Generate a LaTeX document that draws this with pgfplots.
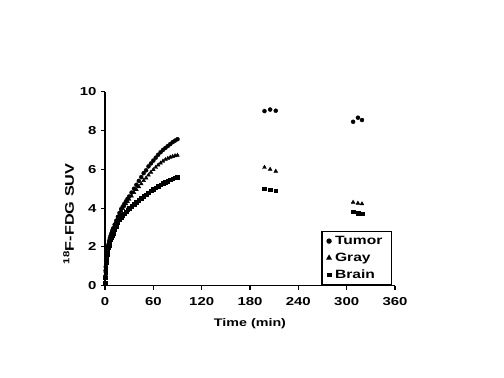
\documentclass[border=0pt]{standalone}
\usepackage{pgfplots}
\pgfplotsset{compat=1.18}
\usepackage{pgfplotstable}
\usepackage{fontspec}
\setmainfont{Liberation Sans}[FakeStretch=1.3]
\pgfplotstableread{
t tumor gray brain
0.25 0.15 0.15 0.12
0.5 0.5 0.48 0.42
0.75 0.78 0.75 0.68
1 1.0 0.98 0.9
1.5 1.35 1.32 1.2
2 1.6 1.57 1.45
2.5 1.75 1.72 1.6
3 1.9 1.87 1.75
4 2.1 2.07 1.95
5 2.3 2.26 2.1
6 2.45 2.41 2.25
7 2.58 2.54 2.38
8 2.7 2.66 2.5
9 2.83 2.78 2.6
10 2.95 2.9 2.7
12 3.15 3.1 2.9
14 3.35 3.3 3.08
16 3.55 3.5 3.25
18 3.75 3.68 3.4
20 3.95 3.85 3.52
22 4.08 3.98 3.62
24 4.22 4.1 3.72
26 4.35 4.22 3.82
28 4.48 4.34 3.91
30 4.6 4.45 4.0
33 4.8 4.62 4.1
36 5.0 4.8 4.2
39 5.2 4.95 4.3
42 5.4 5.1 4.4
45 5.6 5.25 4.5
48 5.8 5.42 4.6
51 5.95 5.55 4.7
54 6.15 5.7 4.8
57 6.3 5.85 4.9
60 6.45 5.98 4.98
63 6.6 6.1 5.06
66 6.75 6.22 5.13
69 6.88 6.32 5.2
72 7.0 6.42 5.27
75 7.1 6.5 5.35
78 7.2 6.56 5.4
81 7.3 6.62 5.46
84 7.4 6.66 5.52
87 7.48 6.7 5.56
90 7.55 6.72 5.6
198 9.0 6.1 5.0
205 9.08 6.0 4.95
212 9.02 5.9 4.9
308 8.45 4.3 3.82
314 8.66 4.25 3.75
319 8.54 4.22 3.72
}\datatable
\begin{document}
\begin{tikzpicture}[x=1pt,y=1pt]
\path[use as bounding box] (-105,-92.3) rectangle (399,285.7);
\begin{axis}[
  at={(0,0)}, anchor=south west,
  scale only axis, width=290pt, height=194pt,
  xmin=0, xmax=360, ymin=0, ymax=10,
  xtick={0,60,...,360}, ytick={0,2,...,10},
  axis lines=left, axis line style={-, line width=1.3pt},
  tick align=outside, major tick length=4pt,
  tick style={line width=1.1pt, black},
  clip=false,
  ticklabel style={font=\fontsize{11.5}{13}\selectfont\bfseries},
  xticklabel style={yshift=-4pt},
  yticklabel style={xshift=-1pt},
  /pgf/number format/assume math mode=true,
  xlabel={Time (min)}, ylabel={\textsuperscript{18}F-FDG SUV},
  xlabel style={font=\fontsize{11}{12}\selectfont\bfseries, yshift=-6pt},
  ylabel style={font=\fontsize{12.5}{14}\selectfont\bfseries, at={(ticklabel cs:0.37)}, yshift=-1pt},
  legend style={at={(0.99,0)}, anchor=south east, draw=black, line width=1.3pt,
    font=\fontsize{12}{14}\selectfont\bfseries, row sep=3pt,
    inner xsep=5pt, inner ysep=3pt, nodes={inner xsep=4pt}},
  legend cell align=left,
]
\addplot[only marks, mark=*, mark size=2pt, black] table[x=t, y=tumor] {\datatable};
\addlegendentry{Tumor}
\addplot[only marks, mark=triangle*, mark size=2.2pt, black] table[x=t, y=gray] {\datatable};
\addlegendentry{Gray}
\addplot[only marks, mark=square*, mark size=1.8pt, black] table[x=t, y=brain] {\datatable};
\addlegendentry{Brain}
\end{axis}
\end{tikzpicture}
\end{document}
